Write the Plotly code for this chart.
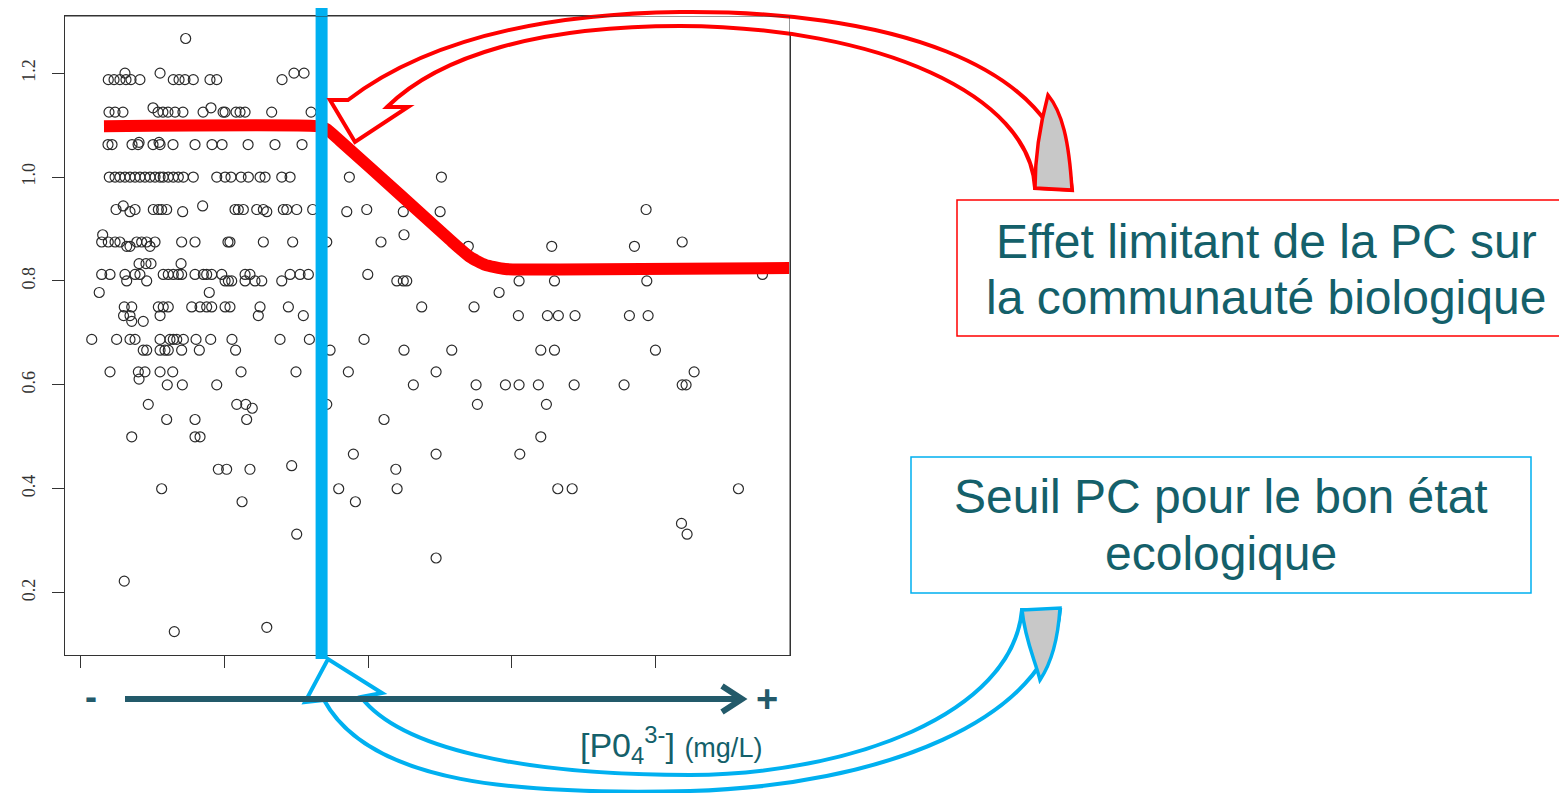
import plotly.graph_objects as go

W, H = 1559, 793

# ---------------- data (x: [PO4] mg/L, y: biological index) ----------------
lvl_1267 = [0.0732]
lvl_1200 = [0.0310, 0.0554, 0.1485, 0.1555]
lvl_1188 = [0.0194, 0.0234, 0.0275, 0.0317, 0.0352, 0.0414, 0.0646, 0.0686, 0.0727,
            0.0785, 0.0901, 0.0948, 0.1402]
lvl_1133 = [0.0505, 0.0908]
lvl_1125 = [0.0199, 0.0241, 0.0296, 0.0540, 0.0574, 0.0609, 0.0658, 0.0713, 0.0853,
            0.0992, 0.1006, 0.1082, 0.1110, 0.1145, 0.1330, 0.1604]
lvl_1067 = [0.0408, 0.0547]
lvl_1063 = [0.0192, 0.0220, 0.0359, 0.0401, 0.0505, 0.0554, 0.0644, 0.0797, 0.0915,
            0.0985, 0.1166, 0.1353, 0.1541]
lvl_1000 = [0.0201, 0.0241, 0.0275, 0.0310, 0.0345, 0.0380, 0.0414, 0.0449, 0.0484,
            0.0519, 0.0554, 0.0576, 0.0611, 0.0646, 0.0681, 0.0716, 0.0785, 0.0948,
            0.1006, 0.1047, 0.1117, 0.1168, 0.1249, 0.1284, 0.1400, 0.1458, 0.1870, 0.2510]
lvl_0944 = [0.0298, 0.0850]
lvl_0938 = [0.0248, 0.0380, 0.0507, 0.0542, 0.0565, 0.0600, 0.1075, 0.1098, 0.1133,
            0.1226, 0.1272, 0.1411, 0.1435, 0.1504, 0.1615, 0.1991, 0.3933]
lvl_0933 = [0.0345, 0.0711, 0.1296, 0.1852, 0.2245, 0.2501]
lvl_0889 = [0.0155, 0.2250]
lvl_0875 = [0.0148, 0.0194, 0.0241, 0.0275, 0.0392, 0.0426, 0.0461, 0.0519, 0.0704,
            0.0797, 0.1026, 0.1040, 0.1272, 0.1476, 0.1713, 0.2090, 0.4184]
lvl_0867 = [0.0322, 0.0345, 0.0484, 0.2697, 0.3277, 0.3852]
lvl_0833 = [0.0408, 0.0456, 0.0491, 0.0700]
lvl_0813 = [0.0148, 0.0206, 0.0310, 0.0380, 0.0414, 0.0576, 0.0611, 0.0646, 0.0681,
            0.0704, 0.0797, 0.0855, 0.0878, 0.0913, 0.0983, 0.1145, 0.1179, 0.1458,
            0.1527, 0.1585, 0.1998, 0.4742]
lvl_0800 = [0.0322, 0.0461, 0.1006, 0.1029, 0.1052, 0.1145, 0.1214, 0.1261, 0.1400,
            0.2200, 0.2245, 0.2269, 0.3050, 0.3296, 0.3938]
lvl_0778 = [0.0131, 0.0896, 0.2911]
lvl_0750 = [0.0305, 0.0357, 0.0542, 0.0576, 0.0611, 0.0774, 0.0832, 0.0878, 0.0913,
            0.1006, 0.1040, 0.1249, 0.1446, 0.2373, 0.2737]
lvl_0733 = [0.0300, 0.0345, 0.0554, 0.1237, 0.1550, 0.3045, 0.3247, 0.3323, 0.3439,
            0.3817, 0.3947]
lvl_0722 = [0.0357, 0.0437]
lvl_0688 = [0.0079, 0.0252, 0.0345, 0.0380, 0.0554, 0.0623, 0.0646, 0.0670, 0.0716,
            0.0804, 0.0906, 0.1054, 0.1388, 0.1592, 0.1972]
lvl_0667 = [0.0437, 0.0461, 0.0554, 0.0588, 0.0611, 0.0704, 0.0827, 0.1079, 0.1736,
            0.2250, 0.2582, 0.3201, 0.3296, 0.3998]
lvl_0625 = [0.0206, 0.0403, 0.0449, 0.0554, 0.0642, 0.1117, 0.1499, 0.1863, 0.2473, 0.4267]
lvl_0611 = [0.0408]
lvl_0600 = [0.0604, 0.0709, 0.0948, 0.2315, 0.2751, 0.2955, 0.3050, 0.3184, 0.3433,
            0.3780, 0.4184, 0.4211]
lvl_0563 = [0.0472, 0.1087, 0.1150, 0.1713, 0.2760, 0.3240]
lvl_0555 = [0.1195]
lvl_0533 = [0.0600, 0.0797, 0.1156, 0.2111]
lvl_0500 = [0.0357, 0.0797, 0.0832, 0.3201]
lvl_0467 = [0.1898, 0.2473, 0.3055]
lvl_0444 = [0.1469]
lvl_0438 = [0.0959, 0.1017, 0.1179, 0.2193]
lvl_0400 = [0.0565, 0.1796, 0.2202, 0.3319, 0.3419, 0.4575]
lvl_0375 = [0.1124, 0.1912]
lvl_0333 = [0.4179]
lvl_0313 = [0.1504, 0.4218]
lvl_0267 = [0.2473]
lvl_0222 = [0.0305]
lvl_0133 = [0.1296]
lvl_0125 = [0.0653]

levels = [
    (1.2667, lvl_1267), (1.2, lvl_1200), (1.1875, lvl_1188), (1.1333, lvl_1133),
    (1.125, lvl_1125), (1.0667, lvl_1067), (1.0625, lvl_1063), (1.0, lvl_1000),
    (0.9444, lvl_0944), (0.9375, lvl_0938), (0.9333, lvl_0933), (0.8889, lvl_0889),
    (0.875, lvl_0875), (0.8667, lvl_0867), (0.8333, lvl_0833), (0.8125, lvl_0813),
    (0.8, lvl_0800), (0.7778, lvl_0778), (0.75, lvl_0750), (0.7333, lvl_0733),
    (0.7222, lvl_0722), (0.6875, lvl_0688), (0.6667, lvl_0667), (0.625, lvl_0625),
    (0.6111, lvl_0611), (0.6, lvl_0600), (0.5625, lvl_0563), (0.555, lvl_0555),
    (0.5333, lvl_0533), (0.5, lvl_0500), (0.4667, lvl_0467), (0.4444, lvl_0444),
    (0.4375, lvl_0438), (0.4, lvl_0400), (0.375, lvl_0375), (0.3333, lvl_0333),
    (0.3125, lvl_0313), (0.2667, lvl_0267), (0.2222, lvl_0222), (0.1333, lvl_0133),
    (0.125, lvl_0125),
]

# fitted response (red) curve
red_x = [0.0164, 0.1638, 0.1708, 0.1805, 0.2223, 0.2570, 0.2709, 0.2814, 0.2953,
         0.3335, 0.4928]
red_y = [1.098, 1.098, 1.093, 1.070, 0.966, 0.879, 0.846, 0.831, 0.823,
         0.822, 0.825]

threshold_x = 0.1677

y_ticks = [0.2, 0.4, 0.6, 0.8, 1.0, 1.2]
y_ticktext = ["0.2", "0.4", "0.6", "0.8", "1.0", "1.2"]
x_ticks = [0.0, 0.1, 0.2, 0.3, 0.4]

X_RANGE = [-0.0109, 0.4930]
Y_RANGE = [0.080, 1.310]

# ---------------- figure ----------------
obs_x, obs_y = [], []
for yv, xs in levels:
    for xv in xs:
        obs_x.append(xv)
        obs_y.append(yv)

fig = go.Figure()
fig.add_trace(go.Scatter(
    x=obs_x, y=obs_y, mode="markers",
    marker=dict(symbol="circle-open", size=10, color="#2b2b2b", line=dict(width=1.2)),
    hoverinfo="skip", showlegend=False))
fig.add_trace(go.Scatter(
    x=red_x, y=red_y, mode="lines",
    line=dict(color="#ff0000", width=12, shape="spline", smoothing=0.5),
    hoverinfo="skip", showlegend=False))


def pt(x, y):
    return f"{x / W:.5f},{1 - y / H:.5f}"


def path(*segs):
    s = []
    for cmd, pts in segs:
        s.append(cmd + " " + " ".join(pt(*p) for p in pts))
    return " ".join(s) + " Z"


RED = "#ff0000"
BLUE = "#00b0f0"
TEAL = "#14606a"
ARROW = "#235a6a"
GRAY = "#c8c8c8"
FRAME = "#333333"

shapes = []
# threshold vertical blue line
shapes.append(dict(type="line", xref="x", yref="paper", x0=threshold_x, x1=threshold_x,
                   y0=1 - 659 / H, y1=1 - 8 / H, line=dict(color=BLUE, width=12),
                   layer="above"))

# red curved arrow
shapes.append(dict(type="path", xref="paper", yref="paper", layer="above",
                   path=path(("M", [(387, 107)]), ("L", [(408, 107)]), ("L", [(355, 142)]),
                             ("L", [(330, 100)]), ("L", [(348, 100)]),
                             ("C", [(420, 45), (530, 14), (680, 12)]),
                             ("C", [(880, 10), (1060, 60), (1072, 190)]),
                             ("L", [(1035, 188)]),
                             ("C", [(1030, 95), (880, 27), (680, 26)]),
                             ("C", [(540, 26), (440, 55), (387, 107)])),
                   fillcolor="white", line=dict(color=RED, width=4)))
shapes.append(dict(type="path", xref="paper", yref="paper", layer="above",
                   path=path(("M", [(1035, 188)]), ("L", [(1072, 190)]),
                             ("C", [(1069, 140), (1062, 112), (1048, 95)]),
                             ("C", [(1040, 125), (1035, 160), (1035, 188)])),
                   fillcolor=GRAY, line=dict(color=RED, width=3.5)))

# plot frame (top and right edges) redrawn over the arrow band
shapes.append(dict(type="line", xref="x", yref="y", x0=X_RANGE[0], x1=X_RANGE[1],
                   y0=Y_RANGE[1], y1=Y_RANGE[1], line=dict(color=FRAME, width=1),
                   layer="above"))
shapes.append(dict(type="line", xref="x", yref="y", x0=X_RANGE[1], x1=X_RANGE[1],
                   y0=Y_RANGE[0], y1=Y_RANGE[1], line=dict(color=FRAME, width=1),
                   layer="above"))

# blue curved arrow
shapes.append(dict(type="path", xref="paper", yref="paper", layer="above",
                   path=path(("M", [(361, 697)]), ("L", [(382, 693)]), ("L", [(328, 659)]),
                             ("L", [(305, 702)]), ("L", [(324, 700)]),
                             ("C", [(370, 785), (520, 795), (690, 791)]),
                             ("C", [(880, 786), (1050, 720), (1060, 610)]),
                             ("L", [(1022, 610)]),
                             ("C", [(1012, 715), (850, 774), (690, 775)]),
                             ("C", [(520, 775), (400, 748), (361, 697)])),
                   fillcolor="white", line=dict(color=BLUE, width=4)))
shapes.append(dict(type="path", xref="paper", yref="paper", layer="above",
                   path=path(("M", [(1022, 610)]), ("L", [(1060, 608)]),
                             ("C", [(1058, 640), (1050, 665), (1040, 680)]),
                             ("C", [(1035, 660), (1025, 640), (1022, 610)])),
                   fillcolor=GRAY, line=dict(color=BLUE, width=3.5)))

# text boxes
shapes.append(dict(type="rect", xref="paper", yref="paper", x0=957 / W, x1=1.01,
                   y0=1 - 336 / H, y1=1 - 200 / H, line=dict(color=RED, width=1.5),
                   fillcolor="rgba(0,0,0,0)"))
shapes.append(dict(type="rect", xref="paper", yref="paper", x0=911 / W, x1=1531 / W,
                   y0=1 - 593 / H, y1=1 - 457 / H, line=dict(color=BLUE, width=1.5),
                   fillcolor="rgba(0,0,0,0)"))

# horizontal concentration arrow
shapes.append(dict(type="line", xref="paper", yref="paper", x0=125 / W, x1=741 / W,
                   y0=1 - 699 / H, y1=1 - 699 / H, line=dict(color=ARROW, width=6)))
shapes.append(dict(type="path", xref="paper", yref="paper",
                   path="M " + pt(722, 686) + " L " + pt(742, 699) + " L " + pt(722, 712),
                   line=dict(color=ARROW, width=6), fillcolor="rgba(0,0,0,0)"))

annotations = []
FONT = "Liberation Sans, Arial, sans-serif"


def txt(x, y, text, size, color=TEAL, xanchor="center"):
    annotations.append(dict(x=x / W, y=1 - y / H, xref="paper", yref="paper", text=text,
                            showarrow=False, xanchor=xanchor, yanchor="middle",
                            font=dict(family=FONT, size=size, color=color)))


txt(1266, 242, "Effet limitant de la PC sur", 48)
txt(1266, 298, "la communauté biologique", 48)
txt(1221, 496, "Seuil PC pour le bon état", 48)
txt(1221, 553, "ecologique", 48)
txt(91, 696, "<b>-</b>", 36, ARROW)
txt(767, 699, "<b>+</b>", 38, ARROW)
annotations.append(dict(x=578 / W, y=1 - 745 / H, xref="paper", yref="paper",
                        text="[P0<sub>4</sub><sup>3-</sup>] <span style='font-size:27px'>(mg/L)</span>",
                        showarrow=False, xanchor="left", yanchor="middle",
                        font=dict(family=FONT, size=34, color=TEAL)))

fig.update_layout(
    width=W, height=H, margin=dict(l=0, r=0, t=0, b=0),
    paper_bgcolor="white", plot_bgcolor="white",
    showlegend=False, shapes=shapes, annotations=annotations,
    xaxis=dict(domain=[64.7 / W, 789.5 / W], range=X_RANGE,
               showgrid=False, zeroline=False, showline=True, mirror=True,
               linecolor=FRAME, linewidth=1, ticks="outside", ticklen=12,
               tickcolor=FRAME, tickvals=x_ticks, showticklabels=False),
    yaxis=dict(domain=[1 - 655 / H, 1 - 16 / H], range=Y_RANGE,
               showgrid=False, zeroline=False, showline=True, mirror=True,
               linecolor=FRAME, linewidth=1, ticks="outside", ticklen=12,
               tickcolor=FRAME, tickvals=y_ticks, ticktext=y_ticktext,
               tickangle=-90, ticklabelstandoff=10,
               tickfont=dict(family="Liberation Serif, Times New Roman, serif",
                             size=18, color=FRAME)),
)

fig.write_html("out.html", config={"displayModeBar": False},
               post_script="document.body.style.margin='0px';document.body.style.overflow='hidden';")
